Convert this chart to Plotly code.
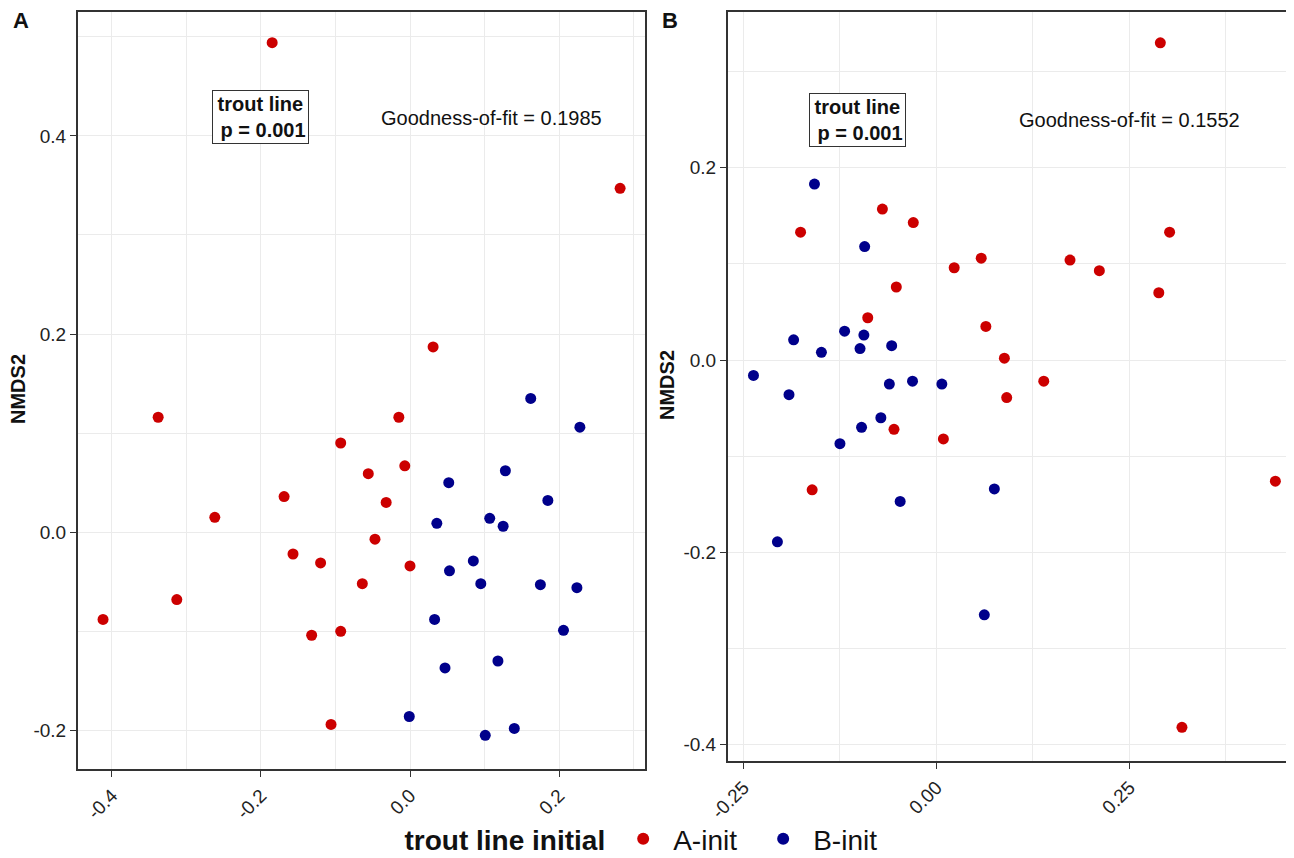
import plotly.graph_objects as go

# ---- Panel A data (NMDS1, NMDS2) ----
a_init_x_A = [-0.185, 0.282, 0.031, -0.338, -0.015, -0.093, -0.056, -0.007, -0.169, -0.032,
              -0.262, -0.047, -0.157, -0.120, 0.000, -0.064, -0.313, -0.412, -0.132, -0.093, -0.106]
a_init_y_A = [0.494, 0.347, 0.187, 0.116, 0.116, 0.090, 0.059, 0.067, 0.036, 0.030,
              0.015, -0.007, -0.022, -0.031, -0.034, -0.052, -0.068, -0.088, -0.104, -0.100, -0.194]
b_init_x_A = [0.162, 0.228, 0.128, 0.052, 0.185, 0.036, 0.107, 0.125, 0.085, 0.053,
              0.095, 0.175, 0.224, 0.033, 0.206, 0.118, 0.047, -0.001, 0.101, 0.140]
b_init_y_A = [0.135, 0.106, 0.062, 0.050, 0.032, 0.009, 0.014, 0.006, -0.029, -0.039,
              -0.052, -0.053, -0.056, -0.088, -0.099, -0.130, -0.137, -0.186, -0.205, -0.198]

# ---- Panel B data ----
a_init_x_B = [0.290, -0.070, -0.030, -0.176, 0.302, 0.058, 0.023, 0.173, 0.211, -0.052,
              0.288, -0.089, 0.064, 0.088, 0.139, 0.091, -0.055, 0.009, 0.439, -0.161, 0.318]
a_init_y_B = [0.330, 0.157, 0.143, 0.133, 0.133, 0.106, 0.096, 0.104, 0.093, 0.076,
              0.070, 0.044, 0.035, 0.002, -0.022, -0.039, -0.072, -0.082, -0.126, -0.135, -0.382]
b_init_x_B = [-0.158, -0.093, -0.119, -0.094, -0.185, -0.099, -0.058, -0.149, -0.237, -0.061,
              -0.031, 0.007, -0.191, -0.072, -0.097, -0.125, 0.075, -0.047, -0.206, 0.062]
b_init_y_B = [0.183, 0.118, 0.030, 0.026, 0.021, 0.012, 0.015, 0.008, -0.016, -0.025,
              -0.022, -0.025, -0.036, -0.060, -0.070, -0.087, -0.134, -0.147, -0.189, -0.265]

groups = ["A-init", "B-init"]
colors = ["#CC0000", "#00008B"]

# tick labels
xticks_A = [-0.4, -0.2, 0.0, 0.2]
xticklabels_A = ["-0.4", "-0.2", "0.0", "0.2"]
yticks_A = [-0.2, 0.0, 0.2, 0.4]
yticklabels_A = ["-0.2", "0.0", "0.2", "0.4"]
xticks_B = [-0.25, 0.0, 0.25]
xticklabels_B = ["-0.25", "0.00", "0.25"]
yticks_B = [-0.4, -0.2, 0.0, 0.2]
yticklabels_B = ["-0.4", "-0.2", "0.0", "0.2"]

FONT = "Liberation Sans, Arial, sans-serif"
W, H = 1294, 858
OFF = 8  # page body margin offset


def px(x):
    return (x - OFF) / W


def py(y):
    return 1 - (y - OFF) / H


fig = go.Figure()


def add_panel(xa, ya, xb, yb, xref, yref, show):
    for name, col, xs, ys in [(groups[0], colors[0], xa, ya), (groups[1], colors[1], xb, yb)]:
        fig.add_trace(go.Scatter(x=xs, y=ys, mode="markers", name=name,
                                 marker=dict(color=col, size=11),
                                 xaxis=xref, yaxis=yref, showlegend=show))


add_panel(a_init_x_A, a_init_y_A, b_init_x_A, b_init_y_A, "x", "y", True)
add_panel(a_init_x_B, a_init_y_B, b_init_x_B, b_init_y_B, "x2", "y2", False)

grid = "#EBEBEB"
line = "#333333"
TICKFONT = dict(family=FONT, size=19, color="#222")


def xaxis(domain, rng, vals, texts, anchor):
    step = vals[1] - vals[0]
    return dict(domain=domain, range=rng, tickmode="array", tickvals=vals, ticktext=texts,
                anchor=anchor, automargin=False,
                showgrid=True, gridcolor=grid, gridwidth=1, zeroline=False,
                minor=dict(tickmode="linear", dtick=step, tick0=vals[0] + step / 2,
                           showgrid=True, gridcolor=grid, gridwidth=1),
                showline=True, linecolor=line, linewidth=2, mirror=True,
                ticks="outside", ticklen=6, tickcolor=line, tickangle=-45,
                tickfont=TICKFONT)


def yaxis(domain, rng, vals, texts, anchor, mirror=True):
    step = vals[1] - vals[0]
    return dict(domain=domain, range=rng, tickmode="array", tickvals=vals, ticktext=texts,
                anchor=anchor, automargin=False,
                showgrid=True, gridcolor=grid, gridwidth=1, zeroline=False,
                minor=dict(tickmode="linear", dtick=step, tick0=vals[0] + step / 2,
                           showgrid=True, gridcolor=grid, gridwidth=1),
                showline=True, linecolor=line, linewidth=2, mirror=mirror,
                ticks="outside", ticklen=6, tickcolor=line,
                tickfont=TICKFONT)


fig.update_layout(
    width=W, height=H,
    margin=dict(l=0, r=0, t=0, b=0, autoexpand=False),
    paper_bgcolor="white", plot_bgcolor="white",
    xaxis=xaxis([px(78), px(645)], [-0.4456, 0.3154], xticks_A, xticklabels_A, "y"),
    yaxis=yaxis([py(769), py(12)], [-0.239, 0.525], yticks_A, yticklabels_A, "x"),
    xaxis2=xaxis([px(728), 1.0], [-0.270, 0.4735], xticks_B, xticklabels_B, "y2"),
    yaxis2=yaxis([py(761), py(12)], [-0.417, 0.362], yticks_B, yticklabels_B, "x2",
                 mirror=False),
    legend=dict(orientation="h", x=px(648), xanchor="center", y=py(864), yanchor="bottom",
                title=dict(text="<b>trout line initial</b>", side="left",
                           font=dict(family=FONT, size=28, color="#111")),
                font=dict(family=FONT, size=28, color="#111"),
                itemsizing="constant", itemwidth=50, entrywidth=75,
                bgcolor="rgba(0,0,0,0)"),
    font=dict(family=FONT),
)

ann_common = dict(showarrow=False, font=dict(family=FONT, size=20, color="#111"))
fig.add_annotation(x=-0.2, y=0.419, xref="x", yref="y",
                   text="<b>trout line</b><br><b> p = 0.001</b>", align="center",
                   bordercolor="#333", borderwidth=1, borderpad=2, bgcolor="white", **ann_common)
fig.add_annotation(x=0.11, y=0.418, xref="x", yref="y",
                   text="Goodness-of-fit = 0.1985", **ann_common)
fig.add_annotation(x=-0.102, y=0.25, xref="x2", yref="y2",
                   text="<b>trout line</b><br><b> p = 0.001</b>", align="center",
                   bordercolor="#333", borderwidth=1, borderpad=2, bgcolor="white", **ann_common)
fig.add_annotation(x=0.25, y=0.25, xref="x2", yref="y2",
                   text="Goodness-of-fit = 0.1552", **ann_common)
fig.add_annotation(x=px(21), y=py(21), xref="paper", yref="paper", text="<b>A</b>",
                   xanchor="center", yanchor="middle",
                   showarrow=False, font=dict(family=FONT, size=22, color="#111"))
fig.add_annotation(x=px(670), y=py(21), xref="paper", yref="paper", text="<b>B</b>",
                   xanchor="center", yanchor="middle",
                   showarrow=False, font=dict(family=FONT, size=22, color="#111"))
# y-axis titles
fig.add_annotation(x=px(18), y=py(389), xref="paper", yref="paper", text="<b>NMDS2</b>",
                   xanchor="center", yanchor="middle",
                   textangle=-90, showarrow=False, font=dict(family=FONT, size=20, color="#111"))
fig.add_annotation(x=px(667), y=py(385), xref="paper", yref="paper", text="<b>NMDS2</b>",
                   xanchor="center", yanchor="middle",
                   textangle=-90, showarrow=False, font=dict(family=FONT, size=20, color="#111"))

fig.write_html("out.html")
